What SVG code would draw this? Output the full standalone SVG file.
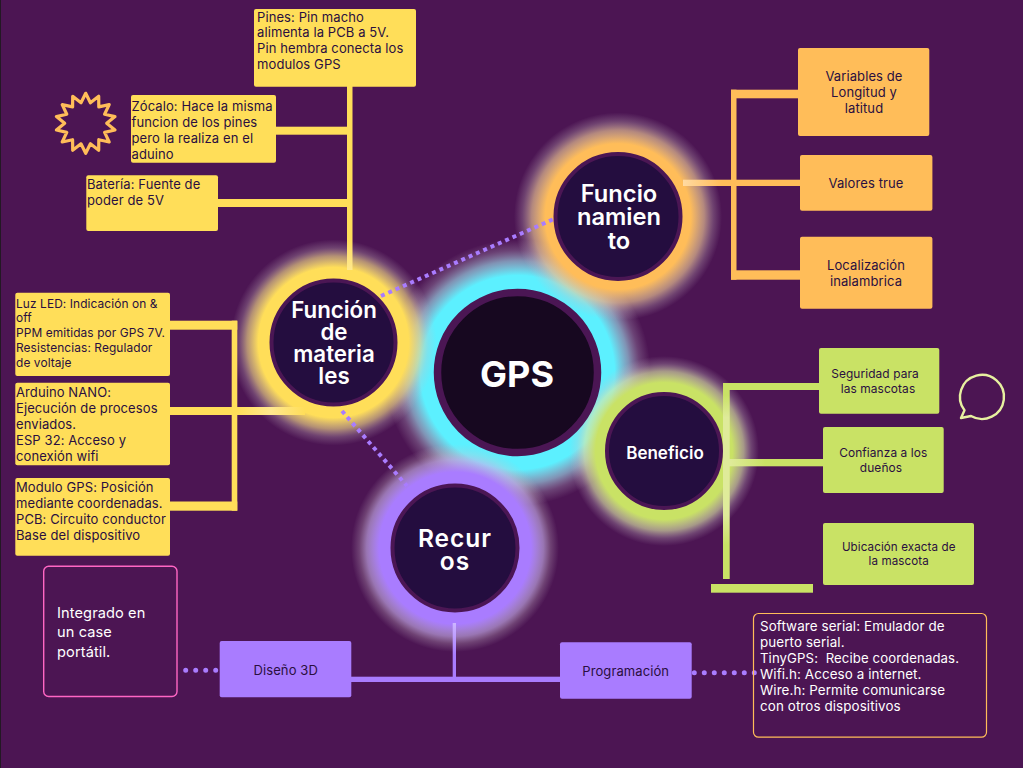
<svg xmlns="http://www.w3.org/2000/svg" width="1023" height="768" viewBox="0 0 1023 768">
<style>
text{font-family:Inter,"Noto Sans","Liberation Sans",sans-serif;white-space:pre}
.t{font-size:13px;fill:#2a0f40;letter-spacing:.1px}
.s{font-size:11.900px}
.u{font-size:11.600px}
.m{text-anchor:middle}
.w{fill:#fff;font-size:13.400px}
.i{fill:#fff;font-size:14.600px}
.h{font-size:22.300px;font-weight:600;fill:#fff;text-anchor:middle}
.l{font-size:23.700px}
.rc{font-size:24.500px;letter-spacing:1px}
.d{fill:none;stroke:#a97cff;stroke-width:4;stroke-dasharray:4 4}
.r{fill:none;stroke:#a97cff;stroke-width:5;stroke-dasharray:0 10;stroke-linecap:round}
.ring{stroke:#4b1654;stroke-width:4;fill:#240d3f}
</style>
<defs>
<radialGradient id="gy"><stop offset=".73" stop-color="#ffde59"/><stop offset=".84" stop-color="#f3dc88" stop-opacity=".62"/><stop offset=".92" stop-color="#d0c0c0" stop-opacity=".26"/><stop offset="1" stop-color="#c8b8c8" stop-opacity="0"/></radialGradient>
<radialGradient id="go"><stop offset=".7" stop-color="#ffbd59"/><stop offset=".83" stop-color="#f3cf98" stop-opacity=".62"/><stop offset=".92" stop-color="#d0c0c0" stop-opacity=".26"/><stop offset="1" stop-color="#c8b8c8" stop-opacity="0"/></radialGradient>
<radialGradient id="gg"><stop offset=".72" stop-color="#c9e265"/><stop offset=".84" stop-color="#dde9a8" stop-opacity=".62"/><stop offset=".92" stop-color="#d0c8c8" stop-opacity=".26"/><stop offset="1" stop-color="#c8b8c8" stop-opacity="0"/></radialGradient>
<radialGradient id="gp"><stop offset=".73" stop-color="#a97cff"/><stop offset=".85" stop-color="#c8b0ee" stop-opacity=".62"/><stop offset=".92" stop-color="#d0c0d0" stop-opacity=".26"/><stop offset="1" stop-color="#c8b8c8" stop-opacity="0"/></radialGradient>
<radialGradient id="gc"><stop offset=".73" stop-color="#5cf0ff"/><stop offset=".84" stop-color="#a0e0f0" stop-opacity=".62"/><stop offset=".92" stop-color="#c0c0d4" stop-opacity=".26"/><stop offset="1" stop-color="#c8b8c8" stop-opacity="0"/></radialGradient>
<linearGradient id="ly1" gradientUnits="userSpaceOnUse" x1="0" y1="238" x2="0" y2="270"><stop offset="0" stop-color="#ffde59"/><stop offset="1" stop-color="#ffe88f"/></linearGradient>
<linearGradient id="ly2" gradientUnits="userSpaceOnUse" x1="237" y1="0" x2="305" y2="0"><stop offset="0" stop-color="#ffde59"/><stop offset=".5" stop-color="#ffe88f"/><stop offset="1" stop-color="#ffde59"/></linearGradient>
<linearGradient id="lo" gradientUnits="userSpaceOnUse" x1="683" y1="0" x2="722" y2="0"><stop offset="0" stop-color="#ffdaa2"/><stop offset="1" stop-color="#ffbd59"/></linearGradient>
<linearGradient id="lg1" gradientUnits="userSpaceOnUse" x1="0" y1="395" x2="0" y2="545"><stop offset="0" stop-color="#c9e265"/><stop offset=".15" stop-color="#dfeb9a"/><stop offset=".8" stop-color="#dfeb9a"/><stop offset="1" stop-color="#c9e265"/></linearGradient>
<linearGradient id="lg2" gradientUnits="userSpaceOnUse" x1="730" y1="0" x2="765" y2="0"><stop offset="0" stop-color="#dfeb9a"/><stop offset="1" stop-color="#c9e265"/></linearGradient>
<linearGradient id="lp" gradientUnits="userSpaceOnUse" x1="0" y1="623" x2="0" y2="655"><stop offset="0" stop-color="#cdb6ff"/><stop offset="1" stop-color="#a97cff"/></linearGradient>
</defs>
<rect width="1023" height="768" fill="#4c1553"/>
<rect width=".8" height="768" fill="#1a1a1a"/>
<g id="glows">
<circle cx="517.500" cy="372.500" r="133" fill="url(#gc)"/>
<circle cx="333.500" cy="342.500" r="103" fill="url(#gy)"/>
<circle cx="618" cy="216.500" r="104" fill="url(#go)"/>
<circle cx="664" cy="451" r="95" fill="url(#gg)"/>
<circle cx="455" cy="548" r="104" fill="url(#gp)"/>
</g>
<g id="connectors">
<g fill="#ffde59">
<rect x="347" y="86" width="5.500" height="184" fill="url(#ly1)"/>
<rect x="275" y="126.700" width="72" height="8"/>
<rect x="217" y="199" width="130" height="8"/>
<rect x="169" y="320.700" width="68.300" height="9"/>
<rect x="231.700" y="320.700" width="5.600" height="190"/>
<rect x="169" y="501.500" width="68.300" height="9.200"/>
<rect x="169" y="407" width="136" height="8" fill="url(#ly2)"/>
</g>
<g fill="#ffbd59">
<rect x="731" y="89.700" width="5.500" height="190"/>
<rect x="731" y="89.700" width="68" height="8.600"/>
<rect x="683" y="179.700" width="118" height="6.300" fill="url(#lo)"/>
<rect x="731" y="270.300" width="70" height="9.400"/>
</g>
<g fill="#c9e265">
<rect x="723" y="383" width="6.700" height="196" fill="url(#lg1)"/>
<rect x="723" y="383" width="97" height="7"/>
<rect x="729" y="459" width="95" height="7.300" fill="url(#lg2)"/>
<rect x="711" y="584" width="102" height="8.700"/>
</g>
<g fill="#a97cff">
<rect x="452.700" y="623" width="3.300" height="55" fill="url(#lp)"/>
<rect x="350" y="676.700" width="211" height="5.300"/>
</g>
<path class="d" d="M381 296L556 218"/>
<path class="d" d="M342 411L407 486"/>
<path class="r" d="M185.700 670.300H216"/>
<path class="r" d="M694.300 672.700H755"/>
</g>
<g id="node-funcion">
<circle class="ring" cx="333.500" cy="342.500" r="62"/>
<text class="h" x="334" y="318">Función</text><text class="h" x="334" y="340">de</text><text class="h" x="334" y="362">materia</text><text class="h" x="334" y="384">les</text>
</g>
<g id="node-funcionamiento">
<circle class="ring" cx="618" cy="216.500" r="62.500"/>
<text class="h l" x="619" y="202">Funcio</text><text class="h l" x="619" y="225">namien</text><text class="h l" x="619" y="249">to</text>
</g>
<g id="node-beneficio">
<circle class="ring" cx="664" cy="451" r="57"/>
<text class="h" x="665" y="459" style="font-size:17px">Beneficio</text>
</g>
<g id="node-recursos">
<circle class="ring" cx="455" cy="548" r="62.500"/>
<text class="h rc" x="455" y="547">Recur</text><text class="h rc" x="455" y="570">os</text>
</g>
<g id="node-gps">
<circle cx="517.500" cy="372.500" r="80" fill="#170820" stroke="#4b1654" stroke-width="7.500"/>
<text class="h" x="517" y="387" style="font-size:36px;font-weight:700">GPS</text>
</g>
<g id="node-pines"><rect x="254" y="9" width="162" height="77.700" rx="2" fill="#ffde59"/>
<text class="t" x="257" y="21.800">Pines: Pin macho</text><text class="t" x="257" y="37.200">alimenta la PCB a 5V.</text><text class="t" x="257" y="53.200">Pin hembra conecta los</text><text class="t" x="257" y="68.500">modulos GPS</text></g>
<g id="node-zocalo"><rect x="131" y="95" width="145" height="67.700" rx="2" fill="#ffde59"/>
<text class="t" x="131.500" y="111.200">Zócalo: Hace la misma</text><text class="t" x="131.500" y="127.200">funcion de los pines</text><text class="t" x="131.500" y="143.200">pero la realiza en el</text><text class="t" x="131.500" y="159.200">aduino</text></g>
<g id="node-bateria"><rect x="86.300" y="175.300" width="131.700" height="55.700" rx="2" fill="#ffde59"/>
<text class="t" x="87" y="189.200">Batería: Fuente de</text><text class="t" x="87" y="205.200">poder de 5V</text></g>
<g id="node-luz"><rect x="15.300" y="292.700" width="154.700" height="83.300" rx="2" fill="#ffde59"/>
<text class="t s" x="16" y="308">Luz LED: Indicación on &amp;</text><text class="t s" x="16" y="322">off</text><text class="t s" x="16" y="337.300">PPM emitidas por GPS 7V.</text><text class="t s" x="16" y="352">Resistencias: Regulador</text><text class="t s" x="16" y="366.700">de voltaje</text></g>
<g id="node-arduino"><rect x="15.300" y="382.700" width="154.700" height="82.600" rx="2" fill="#ffde59"/>
<text class="t" x="16" y="396.500">Arduino NANO:</text><text class="t" x="16" y="412.500">Ejecución de procesos</text><text class="t" x="16" y="428.500">enviados.</text><text class="t" x="16" y="444.500">ESP 32: Acceso y</text><text class="t" x="16" y="460.500">conexión wifi</text></g>
<g id="node-modulo"><rect x="15.300" y="478" width="154.700" height="77.700" rx="2" fill="#ffde59"/>
<text class="t" x="16" y="492">Modulo GPS: Posición</text><text class="t" x="16" y="508">mediante coordenadas.</text><text class="t" x="16" y="524">PCB: Circuito conductor</text><text class="t" x="16" y="540">Base del dispositivo</text></g>
<g id="node-variables"><rect x="798" y="48" width="131.300" height="88" rx="2" fill="#ffbd59"/>
<text class="t m" x="864" y="81">Variables de</text><text class="t m" x="864" y="97">Longitud y</text><text class="t m" x="864" y="113">latitud</text></g>
<g id="node-valores"><rect x="800" y="155" width="132.400" height="55.700" rx="2" fill="#ffbd59"/>
<text class="t m" x="866" y="188">Valores true</text></g>
<g id="node-localizacion"><rect x="800" y="236.700" width="132.400" height="72" rx="2" fill="#ffbd59"/>
<text class="t m" x="866" y="270">Localización</text><text class="t m" x="866" y="286">inalambrica</text></g>
<g id="node-seguridad"><rect x="819" y="348" width="120.300" height="65.700" rx="2" fill="#c9e265"/>
<text class="t m s" x="875" y="377.700">Seguridad para</text><text class="t m s" x="878" y="392.700">las mascotas</text></g>
<g id="node-confianza"><rect x="823" y="427" width="120.700" height="66" rx="2" fill="#c9e265"/>
<text class="t m s" x="883.300" y="456.700">Confianza a los</text><text class="t m s" x="881" y="471.700">dueños</text></g>
<g id="node-ubicacion"><rect x="823" y="523" width="151" height="62" rx="2" fill="#c9e265"/>
<text class="t m u" x="898.700" y="550.700">Ubicación exacta de</text><text class="t m u" x="898.700" y="565">la mascota</text></g>
<g id="node-diseno"><rect x="219.700" y="641" width="131.600" height="56.300" rx="2" fill="#a97cff"/>
<text class="t m" x="285.700" y="674.500">Diseño 3D</text></g>
<g id="node-programacion"><rect x="560" y="642.300" width="131.700" height="56.400" rx="2" fill="#a97cff"/>
<text class="t m" x="625.700" y="675.500">Programación</text></g>
<g id="node-integrado"><rect x="43.700" y="566.200" width="133.300" height="130.300" rx="5" fill="none" stroke="#ff66c4" stroke-width="1.400"/>
<text class="t i" x="57" y="618">Integrado en</text><text class="t i" x="57" y="637">un case</text><text class="t i" x="57" y="657">portátil.</text></g>
<g id="node-software"><rect x="753.500" y="613.500" width="233" height="123.700" rx="5" fill="none" stroke="#ffbd59" stroke-width="1.200"/>
<text class="t w" x="760" y="631">Software serial: Emulador de</text><text class="t w" x="760" y="647">puerto serial.</text><text class="t w" x="760" y="663" style="font-size:13.200px">TinyGPS:  Recibe coordenadas.</text><text class="t w" x="760" y="679">Wifi.h: Acceso a internet.</text><text class="t w" x="760" y="695">Wire.h: Permite comunicarse</text><text class="t w" x="760" y="711">con otros dispositivos</text></g>
<polygon id="star" fill="none" stroke="#ffbd59" stroke-width="3.200" stroke-linejoin="round" points="85.700,93.300 90.400,102.800 98.700,96.300 98.800,106.900 109.200,104.600 104.600,114.200 115,116.600 106.700,123.300 115,130 104.600,132.400 109.200,142 98.800,139.700 98.700,150.300 90.400,143.800 85.700,153.300 81,143.800 72.700,150.300 72.600,139.700 62.200,142 66.800,132.400 56.400,130 64.700,123.300 56.400,116.600 66.800,114.200 62.200,104.600 72.600,106.900 72.700,96.300 81,102.800"/>
<path id="bubble" fill="none" stroke="#e7f0a0" stroke-width="2.400" stroke-linejoin="round" d="M961 418L964.500 410.300A22 22 0 1 1 971 416Z"/>
</svg>
